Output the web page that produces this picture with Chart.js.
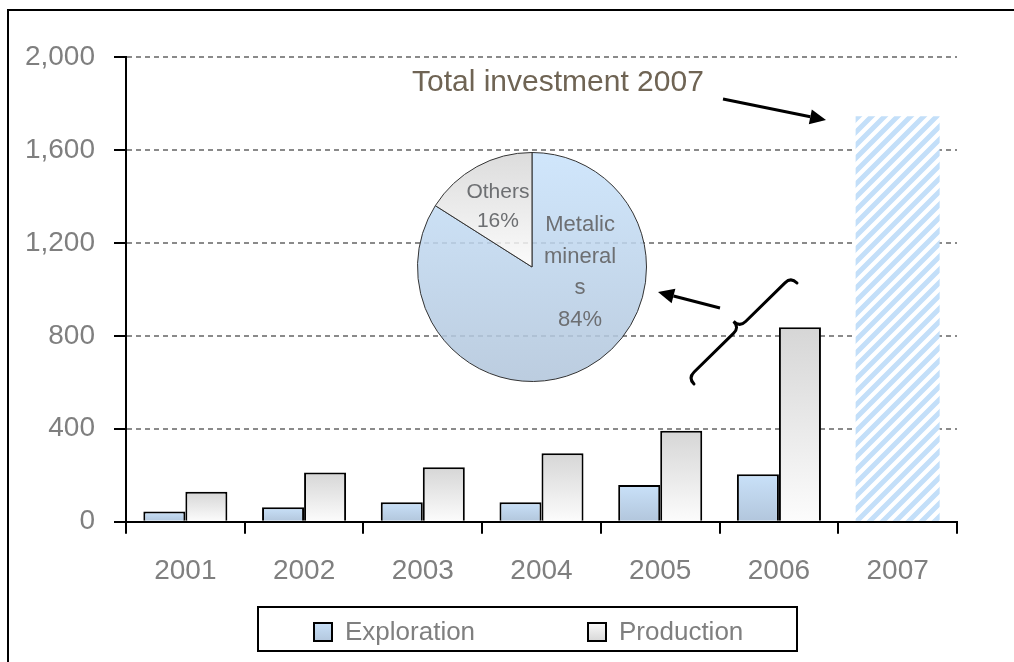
<!DOCTYPE html>
<html lang="en">
<head>
  <meta charset="UTF-8" />
  <title>Investment in mining</title>
  <script src="https://cdn.jsdelivr.net/npm/chart.js"></script>
  <style>
    html, body { margin: 0; padding: 0; background: #fff; overflow: hidden; }
    .marco { position: absolute; left: 7px; top: 9px; width: 1200px; height: 800px; border: 2px solid #000; }
    #principal { position: absolute; left: 0; top: 0; }
    #pastel { position: absolute; left: 412px; top: 147px; z-index: 2; }
  </style>
</head>
<body>
<div class="marco"></div>
<canvas id="principal" width="1014" height="662"></canvas>
<canvas id="pastel" width="240" height="240"></canvas>

<script>
// datos
const years = ['2001', '2002', '2003', '2004', '2005', '2006', '2007'];
const exploration = [44, 62, 84, 84, 158, 204, null];
const production = [129, 212, 234, 295, 391, 837, null];
const total2007 = [null, null, null, null, null, null, 1745];
const yTicks = [0, 400, 800, 1200, 1600, 2000];

const pieLabels = ['Metalic minerals', 'Others'];
const pieShares = [84, 16];

const GRIS = '#7f7f7f';
const SANS = "'Liberation Sans', Arial, sans-serif";

// degradado por barra (de arriba hacia la base)
function barGradient(top, bottom) {
  return ctx => {
    const chart = ctx.chart;
    if (!chart.chartArea || ctx.raw == null) return top;
    const y = chart.scales.y;
    const g = chart.ctx.createLinearGradient(0, y.getPixelForValue(ctx.raw), 0, y.getPixelForValue(0));
    g.addColorStop(0, top);
    g.addColorStop(1, bottom);
    return g;
  };
}

// patron rayado para 2007
function rayas() {
  const c = document.createElement('canvas');
  c.width = 13; c.height = 13;
  const x = c.getContext('2d');
  x.fillStyle = '#fff';
  x.fillRect(0, 0, 13, 13);
  x.strokeStyle = '#c3dff9';
  x.lineWidth = 5;
  x.beginPath();
  x.moveTo(-3, 16); x.lineTo(16, -3);
  x.moveTo(-3, 3); x.lineTo(3, -3);
  x.moveTo(10, 16); x.lineTo(16, 10);
  x.stroke();
  return x.createPattern(c, 'repeat');
}

// leyenda con marco y anotaciones (flechas, llave, texto)
const extras = {
  id: 'extras',
  afterDraw(chart) {
    const ctx = chart.ctx;
    ctx.save();

    // leyenda
    ctx.lineWidth = 2;
    ctx.strokeStyle = '#000';
    ctx.strokeRect(258, 607, 539, 44);
    const items = [
      { label: chart.data.datasets[0].label, x: 313, tx: 345, c: ['#c9e1f9', '#b2c6dc'] },
      { label: chart.data.datasets[1].label, x: 587, tx: 619, c: ['#fbfbfb', '#d6d6d6'] }
    ];
    items.forEach(it => {
      const g = ctx.createLinearGradient(0, 622, 0, 642);
      g.addColorStop(0, it.c[0]);
      g.addColorStop(1, it.c[1]);
      ctx.fillStyle = g;
      ctx.fillRect(it.x, 622, 20, 20);
      ctx.strokeRect(it.x + 1, 623, 18, 18);
      ctx.fillStyle = GRIS;
      ctx.font = '26px ' + SANS;
      ctx.textBaseline = 'middle';
      ctx.fillText(it.label, it.tx, 633);
    });

    // texto total
    ctx.fillStyle = '#6f6454';
    ctx.font = '30px ' + SANS;
    ctx.textBaseline = 'alphabetic';
    ctx.fillText('Total investment 2007', 412, 91);

    // flechas
    flecha(ctx, 723, 99, 826, 120);
    flecha(ctx, 720, 308, 658, 292);

    // llave
    llave(ctx, 694, 384, 797, 283, 8.5);
    ctx.restore();
  }
};

function flecha(ctx, x1, y1, x2, y2) {
  const a = Math.atan2(y2 - y1, x2 - x1);
  const L = 16, W = 7.5;
  const bx = x2 - L * Math.cos(a), by = y2 - L * Math.sin(a);
  ctx.strokeStyle = '#000';
  ctx.fillStyle = '#000';
  ctx.lineWidth = 3;
  ctx.beginPath();
  ctx.moveTo(x1, y1);
  ctx.lineTo(bx, by);
  ctx.stroke();
  ctx.beginPath();
  ctx.moveTo(x2, y2);
  ctx.lineTo(bx - W * Math.sin(a), by + W * Math.cos(a));
  ctx.lineTo(bx + W * Math.sin(a), by - W * Math.cos(a));
  ctx.closePath();
  ctx.fill();
}

function llave(ctx, ax, ay, bx, by, d) {
  const L = Math.hypot(bx - ax, by - ay);
  const ux = (bx - ax) / L, uy = (by - ay) / L;
  // perpendicular hacia arriba-izquierda
  let px = uy, py = -ux;
  if (px + py > 0) { px = -px; py = -py; }
  const mx = (ax + bx) / 2, my = (ay + by) / 2;
  const P = (u, v) => [mx + ux * u + px * v, my + uy * u + py * v];
  const h = L / 2;
  ctx.strokeStyle = '#000';
  ctx.lineWidth = 3;
  ctx.lineCap = 'round';
  ctx.beginPath();
  let p = P(-h, 0); ctx.moveTo(p[0], p[1]);
  let c = P(-h, d); p = P(-h + d, d); ctx.quadraticCurveTo(c[0], c[1], p[0], p[1]);
  p = P(-d, d); ctx.lineTo(p[0], p[1]);
  c = P(0, d); p = P(0, 2 * d); ctx.quadraticCurveTo(c[0], c[1], p[0], p[1]);
  c = P(0, d); p = P(d, d); ctx.quadraticCurveTo(c[0], c[1], p[0], p[1]);
  p = P(h - d, d); ctx.lineTo(p[0], p[1]);
  c = P(h, d); p = P(h, 0); ctx.quadraticCurveTo(c[0], c[1], p[0], p[1]);
  ctx.stroke();
}

new Chart(document.getElementById('principal'), {
  type: 'bar',
  data: {
    labels: years,
    datasets: [
      {
        label: 'Exploration',
        data: exploration,
        backgroundColor: barGradient('#c9e1f9', '#b2c6dc'),
        borderColor: '#000',
        borderWidth: 2
      },
      {
        label: 'Production',
        data: production,
        backgroundColor: barGradient('#d6d6d6', '#fcfcfc'),
        borderColor: '#000',
        borderWidth: 2
      },
      {
        label: 'Total',
        data: total2007,
        grouped: false,
        backgroundColor: rayas(),
        borderWidth: 0
      }
    ]
  },
  options: {
    responsive: false,
    animation: false,
    categoryPercentage: 0.708,
    barPercentage: 1,
    layout: { padding: { left: 0, top: 57, right: 57, bottom: 0 } },
    plugins: {
      legend: { display: false },
      tooltip: { enabled: false }
    },
    scales: {
      x: {
        afterFit: s => { s.height = 140.3; },
        grid: { drawOnChartArea: false, color: '#000', lineWidth: 2, tickLength: 12 },
        border: { color: '#000', width: 2 },
        ticks: { color: GRIS, padding: 21, font: { family: SANS, size: 28 } }
      },
      y: {
        min: yTicks[0],
        max: yTicks[yTicks.length - 1],
        afterFit: s => { s.width = 126; },
        afterBuildTicks: s => { s.ticks = yTicks.map(v => ({ value: v })); },
        grid: {
          color: '#8a8a8a', lineWidth: 2, tickLength: 12,
          tickColor: '#000', tickWidth: 2, tickBorderDash: []
        },
        border: { color: '#000', width: 2, dash: [5, 4] },
        ticks: {
          color: GRIS, padding: 19,
          font: { family: SANS, size: 28 },
          callback: v => v.toLocaleString('en-US')
        }
      }
    }
  },
  plugins: [extras]
});

// etiquetas del pastel
const etiquetasPastel = {
  id: 'etiquetasPastel',
  afterDatasetsDraw(chart) {
    const ctx = chart.ctx;
    const arcs = chart.getDatasetMeta(0).data;
    const m = arcs[0], o = arcs[1];
    const R = m.outerRadius;
    ctx.save();
    ctx.fillStyle = '#6d6f72';
    ctx.textAlign = 'center';
    ctx.textBaseline = 'middle';
    // Others: en el centro del sector
    ctx.font = '21px ' + SANS;
    const mid = (o.startAngle + o.endAngle) / 2;
    const ox = o.x + Math.cos(mid) * R * 0.6, oy = o.y + Math.sin(mid) * R * 0.6;
    ctx.fillText('Others', ox - 1, oy - 15);
    ctx.fillText(pieShares[1] + '%', ox - 1, oy + 14);
    // Metalic minerals: a la derecha del centro
    ctx.font = '22px ' + SANS;
    const mx = m.x + R * 0.42, my = m.y;
    ['Metalic', 'mineral', 's', pieShares[0] + '%'].forEach((t, i) => {
      ctx.fillText(t, mx, my - 42 + i * 31.5);
    });
    ctx.restore();
  }
};

function pieGradient(chart, i) {
  const ctx = chart.ctx;
  const a = chart.chartArea;
  if (!a) return null;
  const g = ctx.createLinearGradient(0, a.top, 0, a.bottom);
  if (i === 0) {
    g.addColorStop(0, 'rgba(200,226,251,0.85)');
    g.addColorStop(1, 'rgba(176,196,218,0.85)');
  } else {
    g.addColorStop(0, 'rgba(214,214,214,0.85)');
    g.addColorStop(0.5, 'rgba(250,250,250,0.85)');
  }
  return g;
}

new Chart(document.getElementById('pastel'), {
  type: 'pie',
  data: {
    labels: pieLabels,
    datasets: [{
      data: pieShares,
      backgroundColor: c => pieGradient(c.chart, c.dataIndex),
      borderColor: '#333',
      borderWidth: 1
    }]
  },
  options: {
    responsive: false,
    animation: false,
    layout: { padding: 5 },
    plugins: { legend: { display: false }, tooltip: { enabled: false } }
  },
  plugins: [etiquetasPastel]
});
</script>
</body>
</html>
